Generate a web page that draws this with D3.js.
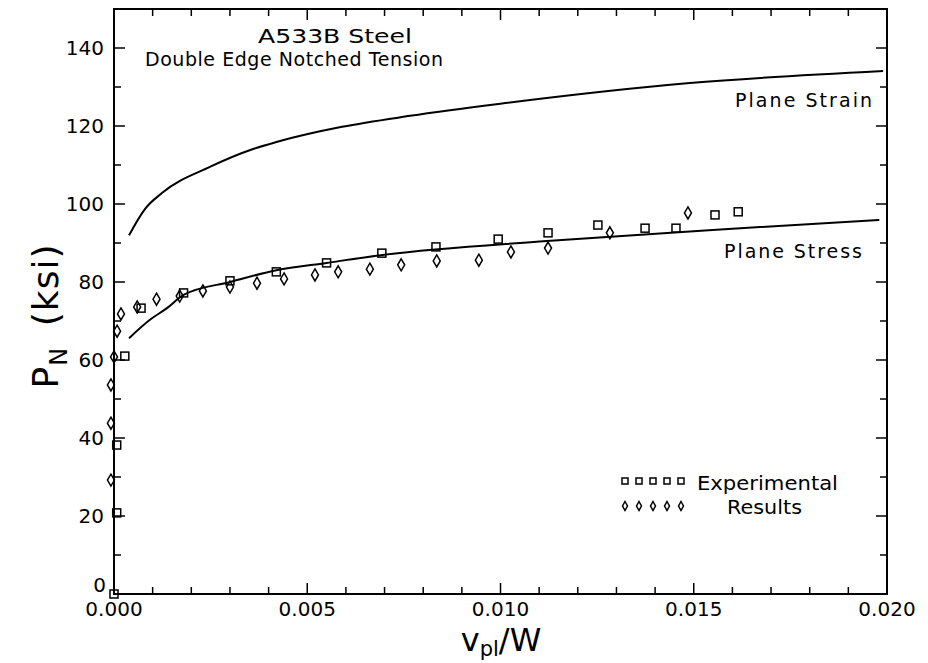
<!DOCTYPE html>
<html>
<head>
<meta charset="utf-8">
<script src="https://cdn.jsdelivr.net/npm/d3@7"></script>
<style>
  body { margin: 0; background: #fff; }
  svg { display: block; font-family: "DejaVu Sans", sans-serif; }
</style>
</head>
<body>
<svg width="928" height="663"></svg>
<script>
// values (x = v_pl/W, y = P_N in ksi)
const planeStrain = [
  [0.00039, 92.0], [0.0008, 98.7], [0.00124, 102.8], [0.00248, 109.5],
  [0.0036, 114.1], [0.0042, 115.9], [0.0059, 119.8], [0.00766, 122.6],
  [0.0100, 125.7], [0.0149, 131.0], [0.0199, 134.1]
];
const planeStress = [
  [0.00039, 65.6], [0.00093, 70.3], [0.00137, 73.3], [0.0018, 76.7],
  [0.0030, 80.0], [0.0042, 83.0], [0.0055, 84.9], [0.0070, 87.0],
  [0.0112, 90.5], [0.0159, 93.6], [0.0198, 95.9]
];
const squares = [
  [0.0000, 0.0], [0.00007, 20.8], [0.00007, 38.2], [0.00028, 61.0],
  [0.0007, 73.3], [0.0018, 77.2], [0.0030, 80.3], [0.0042, 82.6],
  [0.0055, 84.9], [0.00693, 87.4], [0.00833, 89.0], [0.00994, 91.0],
  [0.01123, 92.6], [0.01252, 94.6], [0.01374, 93.8], [0.01454, 93.8],
  [0.01555, 97.2], [0.01615, 98.0]
];
const diamonds = [
  [-0.00008, 29.2], [-0.00008, 43.8], [-0.00008, 53.6], [0.0000, 60.8],
  [0.00008, 67.4], [0.00018, 71.8], [0.0006, 73.6], [0.0011, 75.6],
  [0.0017, 76.4], [0.0023, 77.7], [0.0030, 78.7], [0.0037, 79.7],
  [0.0044, 80.8], [0.0052, 81.8], [0.0058, 82.6], [0.00662, 83.3],
  [0.00743, 84.4], [0.00835, 85.4], [0.00944, 85.6], [0.01027, 87.7],
  [0.01123, 88.7], [0.01283, 92.6], [0.01485, 97.7]
];
const xTickLabels = [0, 0.005, 0.010, 0.015, 0.020];
const yTickLabels = [0, 20, 40, 60, 80, 100, 120, 140];

const pLeft = 114, pRight = 887, pTop = 9, pBottom = 594;

const svg = d3.select("svg");

let x = d3.scaleLinear().domain([0, 0.02]).range([pLeft, pRight]);
let y = d3.scaleLinear().domain([0, 150]).range([pBottom, pTop]);

// frame
svg.append("rect")
  .attr("x", pLeft).attr("y", pTop)
  .attr("width", pRight - pLeft).attr("height", pBottom - pTop)
  .attr("fill", "none").attr("stroke", "#000").attr("stroke-width", 2);

// ticks, all pointing inward on all four sides
let xMinor = d3.range(0, 21).map(d => d / 1000);
let yMinor = d3.range(0, 16).map(d => d * 10);

let ticks = svg.append("g").attr("stroke", "#000").attr("stroke-width", 1.5);
xMinor.forEach(v => {
  let len = Math.round(v * 1000) % 5 === 0 ? 11 : 7;
  ticks.append("line").attr("x1", x(v)).attr("x2", x(v)).attr("y1", pBottom).attr("y2", pBottom - len);
  ticks.append("line").attr("x1", x(v)).attr("x2", x(v)).attr("y1", pTop).attr("y2", pTop + len);
});
yMinor.forEach(v => {
  let len = v % 20 === 0 ? 11 : 7;
  ticks.append("line").attr("y1", y(v)).attr("y2", y(v)).attr("x1", pLeft).attr("x2", pLeft + len);
  ticks.append("line").attr("y1", y(v)).attr("y2", y(v)).attr("x1", pRight).attr("x2", pRight - len);
});

// tick labels
svg.append("g").selectAll("text").data(xTickLabels).join("text")
  .attr("x", d => x(d)).attr("y", 616)
  .attr("text-anchor", "middle")
  .attr("font-size", 20)
  .text(d => d3.format(".3f")(d));

svg.append("g").selectAll("text").data(yTickLabels).join("text")
  .attr("x", d => d === 0 ? 106 : 104).attr("y", d => d === 0 ? 592 : y(d) + 7)
  .attr("text-anchor", "end")
  .attr("font-size", 20)
  .text(d => d);

// curves
let line = d3.line().x(d => x(d[0])).y(d => y(d[1])).curve(d3.curveMonotoneX);

svg.append("path").datum(planeStrain)
  .attr("d", line).attr("fill", "none").attr("stroke", "#000").attr("stroke-width", 2);
svg.append("path").datum(planeStress)
  .attr("d", line).attr("fill", "none").attr("stroke", "#000").attr("stroke-width", 2);

// markers
function square(g, cx, cy, s) {
  g.append("rect").attr("x", cx - s).attr("y", cy - s).attr("width", 2 * s).attr("height", 2 * s)
    .attr("fill", "none").attr("stroke", "#000").attr("stroke-width", 1.5);
}
function diamond(g, cx, cy, w, h) {
  g.append("path").attr("d", `M${cx},${cy - h}L${cx + w},${cy}L${cx},${cy + h}L${cx - w},${cy}Z`)
    .attr("fill", "none").attr("stroke", "#000").attr("stroke-width", 1.5);
}

let marks = svg.append("g");
squares.forEach(d => square(marks, x(d[0]), y(d[1]), 4));
diamonds.forEach(d => diamond(marks, x(d[0]), y(d[1]), 3.5, 6));

// legend
let leg = svg.append("g");
for (let i = 0; i < 5; i++) {
  square(leg, 625 + i * 14, 481, 3);
  diamond(leg, 625 + i * 14, 506, 2.5, 4.5);
}
leg.append("text").attr("x", 697).attr("y", 490).attr("font-size", 19)
  .attr("textLength", 141).attr("lengthAdjust", "spacingAndGlyphs").text("Experimental");
leg.append("text").attr("x", 727).attr("y", 514).attr("font-size", 19)
  .attr("textLength", 75).attr("lengthAdjust", "spacingAndGlyphs").text("Results");

// annotations
svg.append("text").attr("x", 258).attr("y", 43).attr("font-size", 20)
  .attr("textLength", 154).attr("lengthAdjust", "spacingAndGlyphs").text("A533B Steel");
svg.append("text").attr("x", 145).attr("y", 66).attr("font-size", 19)
  .attr("textLength", 298).attr("lengthAdjust", "spacing").text("Double  Edge  Notched  Tension");
svg.append("text").attr("x", 735).attr("y", 107).attr("font-size", 19)
  .attr("textLength", 137).attr("lengthAdjust", "spacing").text("Plane  Strain");
svg.append("text").attr("x", 724).attr("y", 258).attr("font-size", 19)
  .attr("textLength", 138).attr("lengthAdjust", "spacing").text("Plane  Stress");

// axis titles
let yt = svg.append("text")
  .attr("transform", "translate(58,316) rotate(-90)")
  .attr("text-anchor", "middle").attr("font-size", 36)
  .attr("letter-spacing", 1);
yt.append("tspan").text("P");
yt.append("tspan").attr("font-size", 24).attr("dy", 9).text("N");
yt.append("tspan").attr("dy", -9).text("\u2009 (ksi)");

let xt = svg.append("text")
  .attr("x", 501).attr("y", 651)
  .attr("text-anchor", "middle").attr("font-size", 32);
xt.append("tspan").text("v");
xt.append("tspan").attr("font-size", 21).attr("dy", 5).text("pl");
xt.append("tspan").attr("dy", -5).text("/W");
</script>
</body>
</html>
